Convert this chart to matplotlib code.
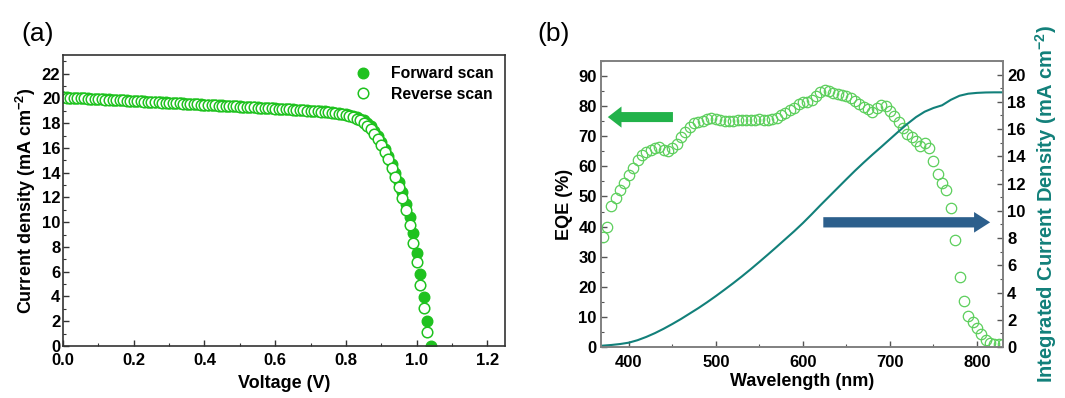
import numpy as np
import matplotlib
matplotlib.use("Agg")
import matplotlib.pyplot as plt
from matplotlib.ticker import MultipleLocator
from matplotlib.patches import FancyArrow

plt.rcParams['font.family'] = ['Liberation Sans', 'DejaVu Sans']
plt.rcParams['mathtext.fontset'] = 'custom'
plt.rcParams['mathtext.rm'] = 'Liberation Sans'
plt.rcParams['mathtext.bf'] = 'Liberation Sans:bold'

# ---- (a) J-V data, voltage sweep in 10 mV steps ----
v_fwd = np.round(np.arange(0, 1.045, 0.01), 2)
j_fwd = [20.10, 20.09, 20.07, 20.06, 20.04, 20.03, 20.01, 20.00, 19.98, 19.97,
         19.95, 19.94, 19.92, 19.91, 19.89, 19.88, 19.86, 19.85, 19.83, 19.82,
         19.80, 19.79, 19.77, 19.76, 19.74, 19.73, 19.71, 19.70, 19.68, 19.67,
         19.65, 19.64, 19.62, 19.61, 19.59, 19.58, 19.56, 19.55, 19.53, 19.52,
         19.50, 19.49, 19.47, 19.46, 19.44, 19.43, 19.41, 19.40, 19.38, 19.37,
         19.35, 19.34, 19.32, 19.31, 19.29, 19.28, 19.26, 19.25, 19.23, 19.22,
         19.20, 19.18, 19.17, 19.15, 19.13, 19.11, 19.10, 19.08, 19.06, 19.04,
         19.02, 19.00, 18.98, 18.96, 18.94, 18.91, 18.88, 18.85, 18.82, 18.77,
         18.72, 18.66, 18.58, 18.48, 18.36, 18.22, 18.02, 17.75, 17.40, 16.98,
         16.50, 15.95, 15.35, 14.70, 14.00, 13.25, 12.40, 11.50, 10.45, 9.15,
         7.55, 5.80, 3.95, 2.00, 0.00]

v_rev = np.round(np.arange(0, 1.035, 0.01), 2)
j_rev = [20.08, 20.07, 20.05, 20.04, 20.02, 20.01, 19.99, 19.98, 19.96, 19.95,
         19.93, 19.92, 19.90, 19.89, 19.87, 19.86, 19.84, 19.83, 19.81, 19.80,
         19.78, 19.77, 19.75, 19.74, 19.72, 19.71, 19.69, 19.68, 19.66, 19.65,
         19.63, 19.62, 19.60, 19.59, 19.57, 19.56, 19.54, 19.53, 19.51, 19.50,
         19.48, 19.47, 19.45, 19.44, 19.42, 19.41, 19.39, 19.38, 19.36, 19.35,
         19.33, 19.32, 19.30, 19.29, 19.27, 19.26, 19.24, 19.23, 19.21, 19.20,
         19.18, 19.16, 19.15, 19.13, 19.11, 19.09, 19.08, 19.06, 19.04, 19.02,
         19.00, 18.98, 18.96, 18.93, 18.90, 18.87, 18.84, 18.81, 18.77, 18.72,
         18.66, 18.58, 18.48, 18.36, 18.22, 18.04, 17.80, 17.50, 17.15, 16.72,
         16.25, 15.70, 15.08, 14.40, 13.65, 12.85, 11.98, 11.00, 9.75, 8.35,
         6.75, 4.95, 3.05, 1.10]

# ---- (b) EQE data, 5 nm steps ----
wl_eqe = np.arange(370, 831, 5)
eqe = [36.5, 40.0, 47.0, 49.5, 52.3, 54.5, 57.0, 59.5, 62.0, 63.7,
       64.9, 65.6, 66.0, 66.3, 65.6, 65.2, 66.2, 67.6, 69.7, 71.5,
       73.2, 74.5, 74.8, 75.2, 75.7, 76.0, 75.8, 75.4, 75.1, 75.0,
       75.1, 75.3, 75.4, 75.3, 75.4, 75.5, 75.6, 75.5, 75.4, 75.6,
       76.2, 77.0, 77.8, 78.8, 79.5, 80.6, 81.3, 81.5, 82.2, 83.4,
       84.6, 85.3, 85.2, 84.4, 84.0, 83.8, 83.5, 82.8, 81.8, 80.6,
       79.8, 78.9, 78.2, 79.3, 80.5, 80.2, 78.5, 76.6, 74.8, 72.8,
       70.9, 69.6, 68.3, 66.8, 67.8, 66.1, 61.7, 57.5, 54.4, 52.0,
       46.3, 35.6, 23.4, 15.2, 10.2, 8.3, 6.2, 4.2, 2.3, 1.3,
       1.0, 1.0, 1.1]

# integrated current density, 10 nm steps
wl_int = np.arange(370, 831, 10)
j_int = [0.10, 0.15, 0.22, 0.32, 0.50, 0.74, 1.02, 1.34, 1.69, 2.06,
         2.46, 2.86, 3.29, 3.74, 4.21, 4.69, 5.19, 5.71, 6.25, 6.80,
         7.36, 7.93, 8.50, 9.10, 9.74, 10.40, 11.04, 11.68, 12.32, 12.95,
         13.55, 14.13, 14.69, 15.26, 15.83, 16.38, 16.88, 17.28, 17.55, 17.75,
         18.15, 18.45, 18.60, 18.66, 18.69, 18.70, 18.70]

green = '#1fc21f'
eqe_green = '#5ccf5c'
teal = '#12807a'

fig = plt.figure(figsize=(10.65, 3.98), dpi=100)

# ---------------- panel (a) ----------------
ax1 = fig.add_axes([0.0592, 0.1307, 0.415, 0.731])
ax1.plot(v_fwd, j_fwd, 'o', color=green, ms=7.6, mew=1.0, label='Forward scan')
ax1.plot(v_rev, j_rev, 'o', mfc='white', mec=green, ms=7.6, mew=1.1,
         label='Reverse scan')
ax1.set_xlim(0, 1.25)
ax1.set_ylim(0, 23.5)
ax1.xaxis.set_major_locator(MultipleLocator(0.2))
ax1.xaxis.set_minor_locator(MultipleLocator(0.1))
ax1.yaxis.set_major_locator(MultipleLocator(2))
ax1.yaxis.set_minor_locator(MultipleLocator(1))
ax1.xaxis.set_major_formatter(plt.FormatStrFormatter('%.1f'))
ax1.tick_params(which='both', direction='in', top=False, right=False,
                labelsize=12, color='#333333', pad=2)
ax1.tick_params(axis='x', pad=5)
ax1.tick_params(which='major', length=4.5, width=1.0)
ax1.tick_params(which='minor', length=2.5, width=0.8)
for lab in ax1.get_xticklabels() + ax1.get_yticklabels():
    lab.set_fontweight('bold')
for s in ax1.spines.values():
    s.set_color('#333333')
    s.set_linewidth(1.2)
ax1.set_xlabel('Voltage (V)', fontsize=13, fontweight='bold', labelpad=5)
ax1.set_ylabel(r'Current density (mA cm$^{\mathbf{-2}}$)', fontsize=13,
               fontweight='bold', labelpad=3)
leg = ax1.legend(loc='upper right', frameon=False,
                 handlelength=1.0, handletextpad=1.3, labelspacing=0.35,
                 borderaxespad=0.3, prop={'weight': 'bold', 'size': 11.3})
fig.text(0.02, 0.915, '(a)', fontsize=19, ha='left', va='center')

# ---------------- panel (b) ----------------
ax2 = fig.add_axes([0.5643, 0.1281, 0.3775, 0.7186])
ax2.plot(wl_eqe, eqe, 'o', mfc='none', mec=eqe_green, ms=7.5, mew=0.9)
ax2.set_xlim(368, 830)
ax2.set_ylim(0, 95)
ax2.xaxis.set_major_locator(MultipleLocator(100))
ax2.xaxis.set_minor_locator(MultipleLocator(50))
ax2.yaxis.set_major_locator(MultipleLocator(10))
ax2.yaxis.set_minor_locator(MultipleLocator(5))
ax2.set_xlabel('Wavelength (nm)', fontsize=13, fontweight='bold', labelpad=2)
ax2.set_ylabel('EQE (%)', fontsize=13, fontweight='bold', labelpad=4)

ax3 = ax2.twinx()
ax3.plot(wl_int, j_int, '-', color=teal, lw=1.5)
ax3.set_ylim(0, 21)
ax3.yaxis.set_major_locator(MultipleLocator(2))
ax3.yaxis.set_minor_locator(MultipleLocator(1))
ax3.set_ylabel(r'Integrated Current Density (mA cm$^{\mathbf{-2}}$)',
               fontsize=14.5, fontweight='bold', color=teal, labelpad=5)

for ax in (ax2, ax3):
    ax.tick_params(which='both', direction='in', labelsize=12, color='#555555',
                   pad=3)
    ax.tick_params(axis='x', pad=6)
    ax.tick_params(which='major', length=4.5, width=1.0)
    ax.tick_params(which='minor', length=2.5, width=0.8)
    for lab in ax.get_xticklabels() + ax.get_yticklabels():
        lab.set_fontweight('bold')
    for s in ax.spines.values():
        s.set_color('#808080')
        s.set_linewidth(1.2)
ax2.tick_params(top=False, right=False)
ax3.tick_params(top=False, left=False)

# arrows showing which axis each curve belongs to
ax2.add_patch(FancyArrow(0.179, 0.804, -0.162, 0, width=0.035, head_width=0.074,
                         head_length=0.034, length_includes_head=True,
                         transform=ax2.transAxes, color='#22b24a', lw=0))
ax2.add_patch(FancyArrow(0.553, 0.436, 0.415, 0, width=0.036, head_width=0.072,
                         head_length=0.04, length_includes_head=True,
                         transform=ax2.transAxes, color='#2c5f8c', lw=0))
fig.text(0.505, 0.915, '(b)', fontsize=19, ha='left', va='center')

fig.savefig('out.png', dpi=100)
